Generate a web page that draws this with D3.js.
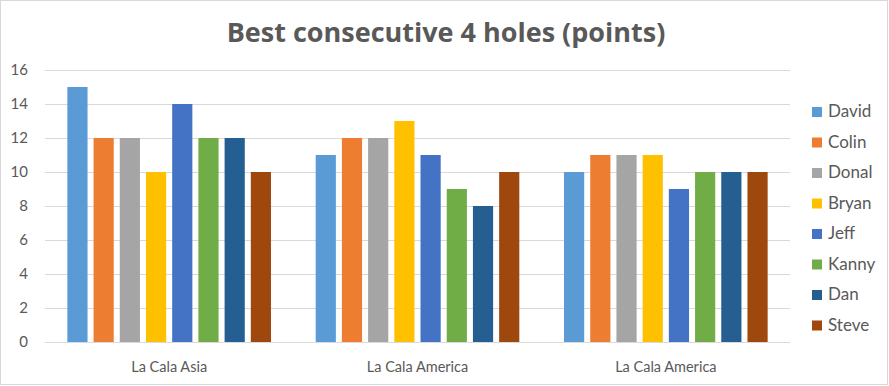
<!DOCTYPE html>
<html><head><meta charset="utf-8">
<script src="https://cdn.jsdelivr.net/npm/d3@7"></script>
<style>body{margin:0;background:#fff}svg{display:block}text{font-family:Lato,"Open Sans",sans-serif;fill:#595959}</style>
</head><body><svg id="c" width="889" height="386"></svg>
<script>
const title = "Best consecutive 4 holes (points)";
const categories = ["La Cala Asia", "La Cala America", "La Cala America"];
const seriesNames = ["David", "Colin", "Donal", "Bryan", "Jeff", "Kanny", "Dan", "Steve"];
const colors = ["#5B9BD5", "#ED7D31", "#A5A5A5", "#FFC000", "#4472C4", "#70AD47", "#255E91", "#9E480E"];
const David = [15, 11, 10];
const Colin = [12, 12, 11];
const Donal = [12, 12, 11];
const Bryan = [10, 13, 11];
const Jeff  = [14, 11, 9];
const Kanny = [12, 9, 10];
const Dan   = [12, 8, 10];
const Steve = [10, 10, 10];
const yTicks = [0, 2, 4, 6, 8, 10, 12, 14, 16];

const seriesValues = [David, Colin, Donal, Bryan, Jeff, Kanny, Dan, Steve];
const svg = d3.select("#c");
svg.append("rect").attr("x",0.5).attr("y",0.5).attr("width",887).attr("height",384)
  .attr("fill","#fff").attr("stroke","#d9d9d9");

const mLeft = 45, mRight = 790, mTop = 70, mBottom = 342;
const x0 = d3.scaleBand().domain(d3.range(categories.length)).range([mLeft, mRight]).paddingInner(0.18).paddingOuter(0.09);
const x1 = d3.scaleBand().domain(d3.range(seriesNames.length)).range([0, x0.bandwidth()]).paddingInner(0.23).paddingOuter(0);
const y = d3.scaleLinear().domain([0, 16]).range([mBottom, mTop]);

svg.append("text").attr("x", 446).attr("y", 42).attr("text-anchor","middle")
  .style("font-family","'Open Sans', sans-serif")
  .style("font-size","27px").style("font-weight","bold").text(title);

const grid = svg.append("g");
grid.selectAll("line").data(yTicks).join("line")
  .attr("x1", mLeft).attr("x2", mRight)
  .attr("y1", d => Math.round(y(d))+0.5).attr("y2", d => Math.round(y(d))+0.5)
  .attr("stroke","#d9d9d9").attr("stroke-width",1);

const yAxis = svg.append("g").attr("transform",`translate(${mLeft},0)`)
  .call(d3.axisLeft(y).tickValues(yTicks).tickSize(0).tickPadding(17));
yAxis.select(".domain").remove();
yAxis.selectAll("text").style("font-size","15px").style("font-family","Lato, sans-serif").attr("fill","#595959");

const groups = svg.append("g").selectAll("g").data(categories).join("g")
  .attr("transform",(d,i)=>`translate(${x0(i)},0)`);
groups.selectAll("rect").data((d,i)=>seriesValues.map((s,j)=>({j, v:s[i]}))).join("rect")
  .attr("x", d => x1(d.j)).attr("width", x1.bandwidth())
  .attr("y", d => y(d.v)).attr("height", d => y(0)-y(d.v))
  .attr("fill", d => colors[d.j]);

svg.append("g").selectAll("text").data(categories).join("text")
  .attr("x",(d,i)=>x0(i)+x0.bandwidth()/2).attr("y", 372)
  .attr("text-anchor","middle").style("font-size","14.5px").text(d=>d);

const lg = svg.append("g").selectAll("g").data(seriesNames).join("g")
  .attr("transform",(d,i)=>`translate(812,${107 + i*30.5})`);
lg.append("rect").attr("width",10).attr("height",10).attr("fill",(d,i)=>colors[i]);
lg.append("text").attr("x",16).attr("y",10).style("font-size","17px").text(d=>d);
</script></body></html>
